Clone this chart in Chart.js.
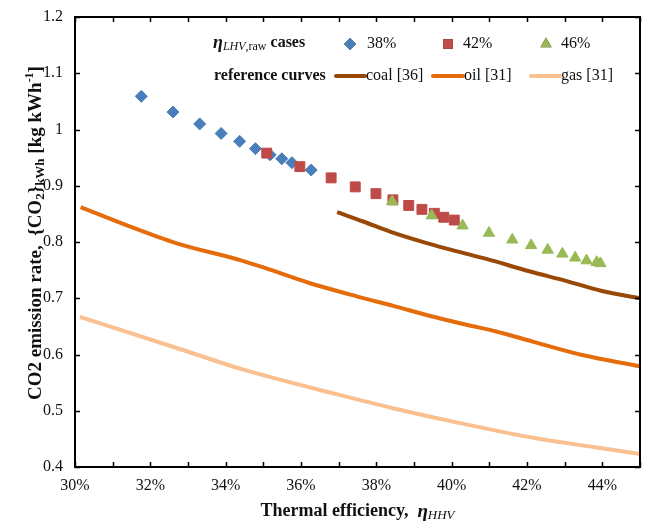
<!DOCTYPE html>
<html>
<head>
<meta charset="utf-8">
<script src="https://cdn.jsdelivr.net/npm/chart.js@4.4.1/dist/chart.umd.min.js"></script>
<style>
  html, body { margin: 0; padding: 0; background: #fff; }
  #wrap { width: 648px; height: 524px; position: relative; }
</style>
</head>
<body>
<div id="wrap"><canvas id="myChart" width="648" height="524"></canvas></div>
<script>
// eta_LHV,raw cases (x in %, y in kg/kWh)
const case38X = [31.76, 32.60, 33.31, 33.88, 34.37, 34.79, 35.18, 35.49, 35.76, 36.27];
const case38Y = [1.059, 1.031, 1.010, 0.993, 0.979, 0.966, 0.955, 0.948, 0.941, 0.928];
const case42X = [35.09, 35.97, 36.80, 37.44, 37.99, 38.44, 38.86, 39.21, 39.54, 39.79, 40.07];
const case42Y = [0.958, 0.934, 0.914, 0.898, 0.886, 0.875, 0.865, 0.858, 0.851, 0.844, 0.839];
const case46X = [38.42, 39.47, 40.29, 40.99, 41.61, 42.11, 42.55, 42.94, 43.28, 43.58, 43.85, 43.95];
const case46Y = [0.872, 0.847, 0.829, 0.816, 0.804, 0.794, 0.786, 0.779, 0.772, 0.767, 0.764, 0.762];

// reference curves
const coalX = [36.96, 37.67, 38.38, 39.34, 40.22, 40.92, 42.06, 43.03, 43.99, 45.0];
const coalY = [0.853, 0.836, 0.818, 0.798, 0.782, 0.770, 0.748, 0.731, 0.713, 0.700];
const oilX = [30.15, 31.36, 32.68, 34.43, 35.04, 36.18, 37.5, 38.47, 39.52, 40.39, 41.18, 42.15, 43.47, 45.0];
const oilY = [0.862, 0.830, 0.798, 0.767, 0.754, 0.728, 0.703, 0.686, 0.667, 0.653, 0.641, 0.623, 0.599, 0.579];
const gasX = [30.13, 32.68, 34.43, 36.97, 38.47, 40.22, 42.24, 43.82, 45.0];
const gasY = [0.667, 0.612, 0.574, 0.529, 0.504, 0.478, 0.451, 0.435, 0.423];

const seriesLabels = ['38%', '42%', '46%', 'coal [36]', 'oil [31]', 'gas [31]'];

const SERIF = '"Liberation Serif", "Times New Roman", serif';
const colBlue = '#4A7EBB', colRed = '#BE4B48', colGreen = '#98B954';
const colCoal = '#984807', colOil = '#E46C0A', colGas = '#FAC090';

function pts(xs, ys) {
    return xs.map((x, i) => ({ x: x, y: ys[i] }));
}

// draw a run of text pieces with different fonts / offsets
function drawRich(ctx, parts, x, y, center) {
    ctx.textBaseline = 'middle';
    ctx.textAlign = 'left';
    let total = 0;
    parts.forEach(p => { ctx.font = p.font; total += ctx.measureText(p.text).width; });
    let cx = center ? x - total / 2 : x;
    parts.forEach(p => {
        ctx.font = p.font;
        ctx.fillText(p.text, cx, y + (p.dy || 0));
        cx += ctx.measureText(p.text).width;
    });
}

// box, inward ticks, titles and legend
const decorPlugin = {
    id: 'decor',
    afterDraw(chart) {
        const ctx = chart.ctx;
        const a = chart.chartArea;
        const xs = chart.scales.x, ys = chart.scales.y;
        ctx.save();
        ctx.strokeStyle = '#000';
        ctx.lineWidth = 1.5;
        xs.ticks.forEach(t => {
            const px = Math.round(xs.getPixelForValue(t.value)) + 0.5;
            ctx.beginPath();
            ctx.moveTo(px, a.bottom); ctx.lineTo(px, a.bottom - 5);
            ctx.moveTo(px, a.top); ctx.lineTo(px, a.top + 5);
            ctx.stroke();
        });
        ys.ticks.forEach(t => {
            const py = Math.round(ys.getPixelForValue(t.value)) + 0.5;
            ctx.beginPath();
            ctx.moveTo(a.left, py); ctx.lineTo(a.left + 5, py);
            ctx.moveTo(a.right, py); ctx.lineTo(a.right - 5, py);
            ctx.stroke();
        });
        ctx.lineWidth = 2;
        ctx.strokeRect(a.left, a.top, a.right - a.left, a.bottom - a.top);

        ctx.fillStyle = '#111';
        // x title
        drawRich(ctx, [
            { text: 'Thermal efficiency,  ', font: 'bold 18px ' + SERIF },
            { text: 'η', font: 'bold italic 19px ' + SERIF, dy: 1 },
            { text: 'HHV', font: 'italic 13px ' + SERIF, dy: 5 }
        ], (a.left + a.right) / 2, 511, true);

        // y title
        ctx.save();
        ctx.translate(36, 233);
        ctx.rotate(-Math.PI / 2);
        drawRich(ctx, [
            { text: 'CO2 emission rate,  {CO', font: 'bold 19px ' + SERIF },
            { text: '2', font: 'bold 13px ' + SERIF, dy: 5 },
            { text: '}', font: 'bold 19px ' + SERIF },
            { text: 'kWh', font: 'bold 13px ' + SERIF, dy: 5 },
            { text: ' [kg kWh', font: 'bold 19px ' + SERIF },
            { text: '-1', font: 'bold 12px ' + SERIF, dy: -6 },
            { text: ']', font: 'bold 19px ' + SERIF }
        ], 0, 0, true);
        ctx.restore();

        // legend row 1: markers
        const ds = chart.data.datasets;
        const r1 = 44, r2 = 76;
        drawRich(ctx, [
            { text: 'η', font: 'bold italic 18px ' + SERIF },
            { text: 'LHV', font: 'italic 12px ' + SERIF, dy: 4 },
            { text: ',raw', font: '12px ' + SERIF, dy: 4 },
            { text: ' cases', font: 'bold 16px ' + SERIF }
        ], 213, r1 - 1, false);
        const mk = [[350, 367], [448, 463], [546, 561]];
        mk.forEach((m, i) => {
            const d = ds[i];
            Chart.helpers.drawPoint(ctx, {
                pointStyle: d.pointStyle, radius: d.pointRadius, rotation: 0, borderWidth: 0
            }, m[0], r1);
            ctx.fillStyle = d.backgroundColor;
            ctx.fill();
            ctx.fillStyle = '#111';
            drawRich(ctx, [{ text: d.label, font: '16px ' + SERIF }], m[1], r1, false);
        });

        // legend row 2: curves
        drawRich(ctx, [{ text: 'reference curves', font: 'bold 16px ' + SERIF }], 214, r2, false);
        const ln = [[336, 365], [433, 463], [531, 560]];
        ln.forEach((l, i) => {
            const d = ds[i + 3];
            ctx.strokeStyle = d.borderColor;
            ctx.lineWidth = 4;
            ctx.lineCap = 'round';
            ctx.beginPath();
            ctx.moveTo(l[0], r2); ctx.lineTo(l[1], r2);
            ctx.stroke();
            ctx.fillStyle = '#111';
            drawRich(ctx, [{ text: d.label, font: '16px ' + SERIF }], l[1] + 1, r2, false);
        });
        ctx.restore();
    }
};

function initChart() {
    const ctx = document.getElementById('myChart').getContext('2d');
    const marker = (label, xs, ys, color, style, r, order) => ({
        label: label, data: pts(xs, ys), showLine: false, order: order,
        pointStyle: style, pointRadius: r, pointHoverRadius: r,
        backgroundColor: color, borderColor: color, borderWidth: 1
    });
    const curve = (label, xs, ys, color, order) => ({
        label: label, data: pts(xs, ys), showLine: true, order: order,
        pointRadius: 0, borderColor: color, backgroundColor: color,
        borderWidth: 4, cubicInterpolationMode: 'monotone', fill: false
    });
    new Chart(ctx, {
        type: 'scatter',
        data: {
            datasets: [
                marker(seriesLabels[0], case38X, case38Y, colBlue, 'rectRot', 6, 2),
                marker(seriesLabels[1], case42X, case42Y, colRed, 'rect', 7, 1),
                marker(seriesLabels[2], case46X, case46Y, colGreen, 'triangle', 6.5, 0),
                curve(seriesLabels[3], coalX, coalY, colCoal, 3),
                curve(seriesLabels[4], oilX, oilY, colOil, 4),
                curve(seriesLabels[5], gasX, gasY, colGas, 5)
            ]
        },
        options: {
            responsive: false,
            animation: false,
            layout: { padding: { left: 0, top: 17, right: 3, bottom: 0 } },
            plugins: { legend: { display: false }, tooltip: { enabled: false } },
            scales: {
                x: {
                    type: 'linear', min: 30, max: 45,
                    grid: { drawOnChartArea: false, drawTicks: false },
                    border: { display: false },
                    ticks: {
                        stepSize: 1, autoSkip: false, maxRotation: 0, padding: 9,
                        color: '#111', font: { family: SERIF, size: 16 },
                        callback: v => (Math.round(v) % 2 === 0 ? Math.round(v) + '%' : '')
                    },
                    afterFit: s => { s.height = 57; s.paddingLeft = 0; s.paddingRight = 0; }
                },
                y: {
                    type: 'linear', min: 0.4, max: 1.2,
                    grid: { drawOnChartArea: false, drawTicks: false },
                    border: { display: false },
                    ticks: {
                        stepSize: 0.1, padding: 12,
                        color: '#111', font: { family: SERIF, size: 16 },
                        callback: v => String(Math.round(v * 10) / 10)
                    },
                    afterFit: s => { s.width = 75; s.paddingTop = 0; s.paddingBottom = 0; }
                }
            }
        },
        plugins: [decorPlugin]
    });
}

initChart();
</script>
</body>
</html>
